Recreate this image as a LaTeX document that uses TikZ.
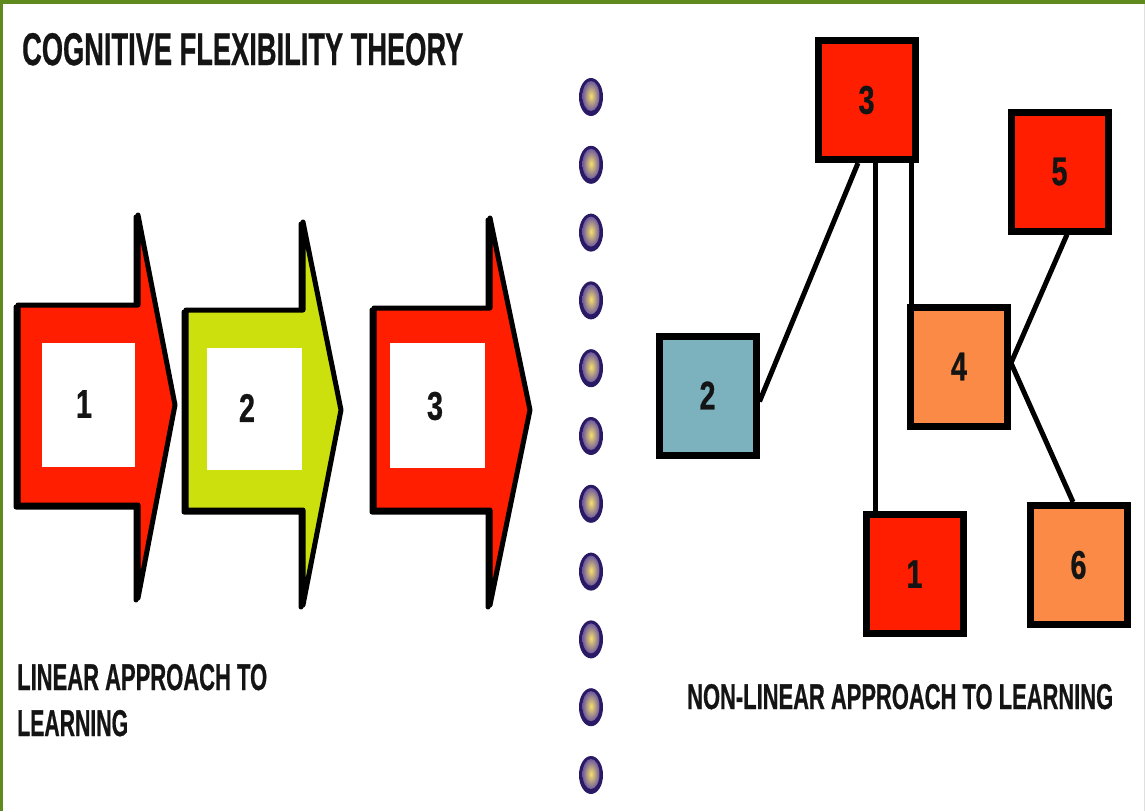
\documentclass[tikz,border=0pt]{standalone}
\usepackage{fontspec}
\setmainfont{Liberation Sans}
\newfontfamily\heavy[BoldFeatures={FakeBold=0.8}]{Liberation Sans}
\usepackage{graphicx}
\usetikzlibrary{calc,backgrounds}
\definecolor{bgreen}{HTML}{5E8A1E}
\definecolor{ared}{HTML}{FF1E00}
\definecolor{ayel}{HTML}{CCE00E}
\definecolor{borange}{HTML}{FA8A45}
\definecolor{bteal}{HTML}{7BB2BE}
\definecolor{dotY}{HTML}{F8E06A}
\definecolor{dotP}{HTML}{6E5A9E}
\definecolor{dotD}{HTML}{2A1A66}
\definecolor{ink}{HTML}{141414}
\newcommand\dig[1]{\scalebox{0.72}[1]{\fontsize{40}{40}\selectfont\heavy\bfseries #1}}
\newcommand\lab[3]{\resizebox{#1}{#2}{\heavy\bfseries #3}}
\begin{document}
\begin{tikzpicture}[x=1pt,y=-1pt,
  arrowshape/.style={draw=black, line width=5pt, line join=round},
  arrowshadow/.style={draw=black, fill=black, line width=5pt, line join=round},
  whitebox/.style={fill=white, inner sep=0pt},
  box/.style={draw=black, line width=7pt, minimum width=97pt, minimum height=119pt, inner sep=0pt, text=ink},
  conn/.style={draw=black, line width=5pt},
  digit/.style={inner sep=0pt, text=ink},
  caption/.style={anchor=base west, inner sep=0pt, text=ink}]
\useasboundingbox (0,0) rectangle (1145,811);
\begin{scope}[on background layer]
  \fill[white] (0,0) rectangle (1145,811);
\end{scope}
% frame
\fill[bgreen] (0,0) rectangle (1145,4);
\fill[bgreen] (0,0) rectangle (3,811);
\draw[gray!25, line width=1pt] (1144,4) -- (1144,811);

% title and captions
\node[caption] (title) at (22,65) {\lab{441pt}{32pt}{COGNITIVE FLEXIBILITY THEORY}};
\node[caption] (lin1) at (17,690) {\lab{250pt}{26pt}{LINEAR APPROACH TO}};
\node[caption] (lin2) at (17,736) {\lab{111pt}{26pt}{LEARNING}};
\node[caption] (nonlin) at (687,709) {\lab{426pt}{25pt}{NON-LINEAR APPROACH TO LEARNING}};

% linear arrows
\begin{scope}[shift={(-2,2)}]
\draw[arrowshadow] (18,305) -- (138,305) -- (138,215) -- (175,405) -- (138,598) -- (138,505) -- (18,505) -- cycle;
\draw[arrowshadow] (186,310) -- (303,310) -- (303,222) -- (341,410) -- (303,605) -- (303,510) -- (186,510) -- cycle;
\draw[arrowshadow] (374,308) -- (490,308) -- (490,218) -- (530,410) -- (490,605) -- (490,510) -- (374,510) -- cycle;
\end{scope}
\draw[arrowshape, fill=ared] (18,305) -- (138,305) -- (138,215) -- (175,405) -- (138,598) -- (138,505) -- (18,505) -- cycle;
\node[whitebox, minimum width=93pt, minimum height=124pt] (w1) at (88.5,405) {};
\node[digit] (d1) at (84,404) {\dig{1}};

\draw[arrowshape, fill=ayel] (186,310) -- (303,310) -- (303,222) -- (341,410) -- (303,605) -- (303,510) -- (186,510) -- cycle;
\node[whitebox, minimum width=95pt, minimum height=122pt] (w2) at (254.5,409) {};
\node[digit] (d2) at (247,408) {\dig{2}};

\draw[arrowshape, fill=ared] (374,308) -- (490,308) -- (490,218) -- (530,410) -- (490,605) -- (490,510) -- (374,510) -- cycle;
\node[whitebox, minimum width=95pt, minimum height=125pt] (w3) at (437.5,405.5) {};
\node[digit] (d3) at (435,406) {\dig{3}};

% dotted divider
\foreach \i in {0,...,10}{
  \fill[dotD] (591,{97+67.8*\i}) ellipse [x radius=12pt, y radius=19pt];
  \shade[inner color=dotY, outer color=dotP] (591,{96+67.8*\i}) ellipse [x radius=8.5pt, y radius=15pt];
}

% non-linear boxes
\node[box, fill=ared] (b3) at (866.5,100) {\dig{3}};
\node[box, fill=ared] (b5) at (1059.5,171.5) {\dig{5}};
\node[box, fill=borange] (b4) at (959,366.5) {\dig{4}};
\node[box, fill=bteal] (b2) at (707.5,395.5) {\dig{2}};
\node[box, fill=ared] (b1) at (914.5,574) {\dig{1}};
\node[box, fill=borange] (b6) at (1078.5,565) {\dig{6}};

\coordinate (p4) at ([yshift=3.5pt]b4.east);
\begin{scope}[on background layer]
  \draw[conn] ([xshift=-8.5pt]b3.south) -- ([yshift=-6pt]b2.east);
  \draw[conn] ([xshift=8.5pt]b3.south) -- ([xshift=8.5pt]b3.south |- b1.north);
  \draw[conn] ([xshift=44.5pt]b3.south) -- ([xshift=44.5pt]b3.south |- b4.north);
  \draw[conn] ([xshift=7.5pt]b5.south) -- (p4);
  \draw[conn] (p4) -- ([xshift=-5.5pt]b6.north);
\end{scope}
\end{tikzpicture}
\end{document}
